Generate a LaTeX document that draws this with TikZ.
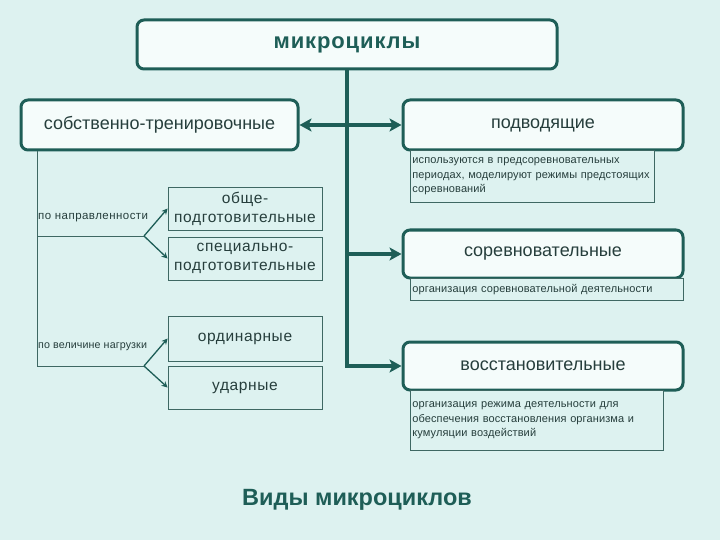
\documentclass[tikz,border=0pt]{standalone}
\usepackage{fontspec}
\setmainfont{Liberation Sans}
\newfontfamily\widefont[LetterSpace=4]{Liberation Sans}
\newfontfamily\smallfont[LetterSpace=1]{Liberation Sans}
\usetikzlibrary{arrows.meta}
\definecolor{bgcol}{RGB}{221,242,240}
\definecolor{linecol}{RGB}{30,94,87}
\definecolor{boxfill}{RGB}{245,252,251}
\definecolor{txtcol}{RGB}{38,62,60}
\definecolor{thincol}{RGB}{62,104,99}
\tikzstyle{mbox}=[rectangle,rounded corners=7pt,draw=linecol,line width=3pt,fill=boxfill,inner sep=0pt,text=txtcol,font=\fontsize{18}{21}\selectfont]
\tikzstyle{sbox}=[rectangle,draw=thincol,line width=0.8pt,fill=bgcol,inner sep=0pt,text=txtcol,align=center,font=\widefont\fontsize{15.5}{19}\selectfont]
\tikzstyle{dbox}=[rectangle,draw=thincol,line width=0.8pt,fill=bgcol,inner xsep=2pt,inner ysep=2.5pt,anchor=north west,align=left,text=txtcol,font=\smallfont\fontsize{11}{14.5}\selectfont]
\tikzstyle{lbl}=[text=txtcol,inner sep=1pt,anchor=west,font=\widefont\fontsize{11.5}{13}\selectfont]
\tikzstyle{trunk}=[line width=3.5pt,draw=linecol,>={Stealth[length=12pt,width=13pt,inset=3pt]}]
\tikzstyle{fork}=[->,line width=1.3pt,draw=linecol,>={Stealth[length=6pt,width=6pt]}]

\begin{document}
\begin{tikzpicture}[x=1pt,y=-1pt]
\fill[bgcol] (0,0) rectangle (720,540);
\useasboundingbox (0,0) rectangle (720,540);
\node[mbox,minimum width=420,minimum height=49,text=linecol,font=\widefont\fontsize{22}{26}\selectfont\bfseries] (mc) at (347,44.5) {микроциклы};
\node[mbox,minimum width=277,minimum height=50] (st) at (159.5,125) {собственно-тренировочные};
\node[mbox,minimum width=280,minimum height=50] (pv) at (543,125) {подводящие};
\node[dbox,text width=240,minimum height=52] (pvd) at (410,150) {\mbox{используются в предсоревновательных}\\\mbox{периодах, моделируют режимы предстоящих}\\\mbox{соревнований}};
\node[mbox,minimum width=280,minimum height=48] (sr) at (543,254) {соревновательные};
\node[dbox,text width=269,minimum height=22] (srd) at (410,278) {организация соревновательной деятельности};
\node[mbox,minimum width=280,minimum height=48] (vs) at (543,366) {восстановительные};
\node[dbox,text width=249,minimum height=60] (vsd) at (410,390) {организация режима деятельности для\\обеспечения восстановления организма и\\кумуляции воздействий};
\node[sbox,minimum width=154,minimum height=43] (ob) at (245,208.5) {обще-\\подготовительные};
\node[sbox,minimum width=154,minimum height=43] (sp) at (245,258.5) {специально-\\подготовительные};
\node[sbox,minimum width=154,minimum height=45] (ord) at (245,338.5) {ординарные};
\node[sbox,minimum width=154,minimum height=43] (ud) at (245,387.5) {ударные};
\node[text=linecol,font=\fontsize{23.5}{28}\selectfont\bfseries] (title) at (357,500) {Виды микроциклов};
% main connectors
\draw[trunk,->] (mc.south) -- (mc.south |- vs.west) -- (vs.west);
\draw[trunk,<->] (st.east) -- (pv.west);
\draw[trunk,->] (mc.south |- sr.west) -- (sr.west);
% left branch
\coordinate (l1) at (37,236);\coordinate (l2) at (37,366);
\coordinate (f1) at (144,236);\coordinate (f2) at (144,366);
\draw[line width=0.8pt,thincol] (st.south -| l2) -- (l2) -- (f2);\draw[line width=0.8pt,thincol] (l1) -- (f1);
\node[lbl] (n1) at (37,218) {по направленности};
\node[lbl,font=\smallfont\fontsize{10.7}{12}\selectfont] (n2) at (37,347) {по величине нагрузки};
\draw[fork] (f1) -- (ob.west);\draw[fork] (f1) -- (sp.west);
\draw[fork] (f2) -- (ord.west);\draw[fork] (f2) -- (ud.west);
\end{tikzpicture}
\end{document}
